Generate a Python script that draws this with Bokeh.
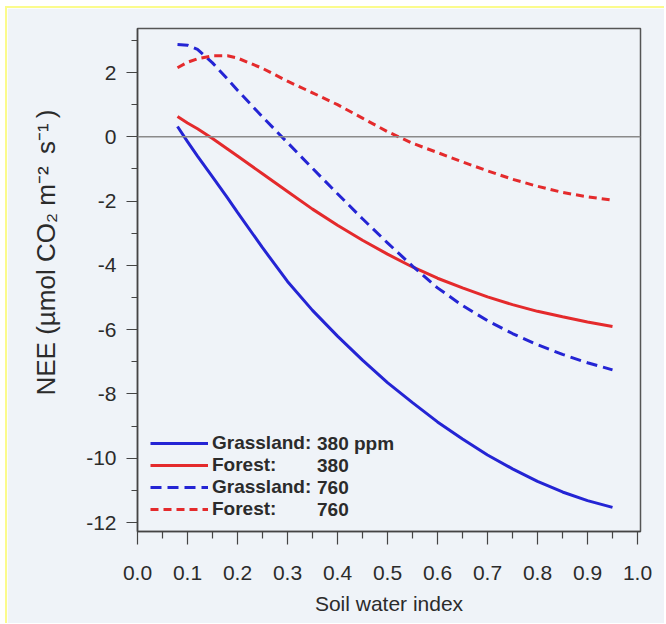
from bokeh.plotting import figure
from bokeh.models import Span, Legend, LegendItem, Label, Title, FixedTicker, Range1d
from bokeh.embed import file_html
from bokeh.resources import INLINE

# Soil water index (x) and modelled NEE for each vegetation / CO2 case
swi = [0.08, 0.10, 0.12, 0.15, 0.18, 0.20, 0.25, 0.30, 0.35, 0.40, 0.45,
       0.50, 0.55, 0.60, 0.65, 0.70, 0.75, 0.80, 0.85, 0.90, 0.95]
grass_380 = [0.32, -0.15, -0.60, -1.25, -1.90, -2.35, -3.45, -4.50, -5.40, -6.20, -6.95,
             -7.65, -8.27, -8.87, -9.40, -9.90, -10.33, -10.72, -11.05, -11.32, -11.53]
forest_380 = [0.63, 0.43, 0.25, -0.05, -0.38, -0.60, -1.15, -1.70, -2.25, -2.75, -3.22,
              -3.65, -4.05, -4.40, -4.70, -4.98, -5.22, -5.43, -5.60, -5.76, -5.90]
grass_760 = [2.87, 2.85, 2.72, 2.30, 1.80, 1.45, 0.62, -0.18, -0.98, -1.77, -2.55,
             -3.30, -4.02, -4.70, -5.25, -5.72, -6.12, -6.47, -6.77, -7.03, -7.25]
forest_760 = [2.15, 2.32, 2.43, 2.52, 2.52, 2.45, 2.13, 1.73, 1.37, 1.00, 0.58,
              0.16, -0.20, -0.49, -0.78, -1.06, -1.32, -1.54, -1.73, -1.87, -1.97]

x_ticks = [0.0, 0.1, 0.2, 0.3, 0.4, 0.5, 0.6, 0.7, 0.8, 0.9, 1.0]
y_ticks = [-12, -10, -8, -6, -4, -2, 0, 2]

series_names = ["Grassland:", "Forest:", "Grassland:", "Forest:"]
series_co2 = ["380 ppm", "380", "760", "760"]

BG = "#eff3f8"
BLUE = "#2424d4"
RED = "#e42a2c"
FONT = "Liberation Sans"
TEXT = "#2b2b2b"

p = figure(width=659, height=617, output_backend="svg", toolbar_location=None,
           x_range=Range1d(0, 1.006), y_range=Range1d(-12.28, 3.37),
           min_border_left=130, min_border_right=26, min_border_top=20,
           min_border_bottom=94,
           background_fill_color=BG, border_fill_color=BG,
           styles={"margin-left": "5px", "margin-top": "6px",
                   "border-left": "2px solid #fbfb8c",
                   "border-top": "2px solid #fbfb8c"})

p.outline_line_color = "#555555"
p.outline_line_width = 1.5
p.xgrid.visible = False
p.ygrid.visible = False

# zero reference line
p.add_layout(Span(location=0, dimension="width", line_color="#8a8a8a", line_width=1.5))

r1 = p.line(swi, grass_380, line_color=BLUE, line_width=3)
r2 = p.line(swi, forest_380, line_color=RED, line_width=3)
r3 = p.line(swi, grass_760, line_color=BLUE, line_width=3, line_dash="11 6")
r4 = p.line(swi, forest_760, line_color=RED, line_width=3, line_dash="8 5")

for ax in (p.xaxis[0], p.yaxis[0]):
    ax.axis_line_color = "#444444"
    ax.axis_line_width = 1.5
    ax.major_tick_line_color = "#444444"
    ax.minor_tick_line_color = "#444444"
    ax.major_tick_line_width = 1.2
    ax.minor_tick_line_width = 1.2
    ax.major_tick_in = 0
    ax.minor_tick_in = 0
    ax.major_label_text_font = FONT
    ax.major_label_text_font_size = "21px"
    ax.major_label_text_color = TEXT

xa = p.xaxis[0]
xa.ticker = FixedTicker(ticks=x_ticks,
                        minor_ticks=[round(t + 0.05, 2) for t in x_ticks[:-1]])
xa.major_label_overrides = {t: f"{t:.1f}" for t in x_ticks}
xa.major_tick_out = 13
xa.minor_tick_out = 7
xa.major_label_standoff = 21
xa.axis_label = "Soil water index"
xa.axis_label_text_font = FONT
xa.axis_label_text_font_size = "21px"
xa.axis_label_text_font_style = "normal"
xa.axis_label_text_color = TEXT
xa.axis_label_standoff = 9

ya = p.yaxis[0]
ya.ticker = FixedTicker(ticks=y_ticks, minor_ticks=[t + 1 for t in y_ticks])
ya.major_label_overrides = {t: str(t) for t in y_ticks}
ya.major_tick_out = 11
ya.minor_tick_out = 6
ya.major_label_standoff = 10

# vertical y-axis title in the left panel, starting near the -8 tick
y_title = "NEE (\u00b5mol CO\u2082 m\u207b\u00b2\u2009 s\u207b\u00b9\u2009)"
p.add_layout(Title(text=y_title,
                   align="left", offset=136, standoff=43, vertical_align="middle",
                   text_font=FONT, text_font_size="26px",
                   text_font_style="normal", text_color=TEXT), "left")

legend = Legend(items=[LegendItem(label=series_names[i], renderers=[r])
                       for i, r in enumerate([r1, r2, r3, r4])],
                location=(13, 11), orientation="vertical",
                glyph_width=58, glyph_height=20, label_height=20,
                label_standoff=4, spacing=0, padding=0, margin=0,
                border_line_color=None, background_fill_alpha=0,
                label_text_font=FONT, label_text_font_size="19px",
                label_text_font_style="bold", label_text_color=TEXT)
p.add_layout(legend, "center")

row_y = [88, 66, 44, 22]
for txt, yy in zip(series_co2, row_y):
    p.add_layout(Label(x=179.5, y=yy, x_units="screen", y_units="screen", text=txt,
                       text_align="left", text_baseline="middle",
                       text_font=FONT, text_font_size="19px",
                       text_font_style="bold", text_color=TEXT))

open("out.html", "w").write(file_html(p, INLINE))
